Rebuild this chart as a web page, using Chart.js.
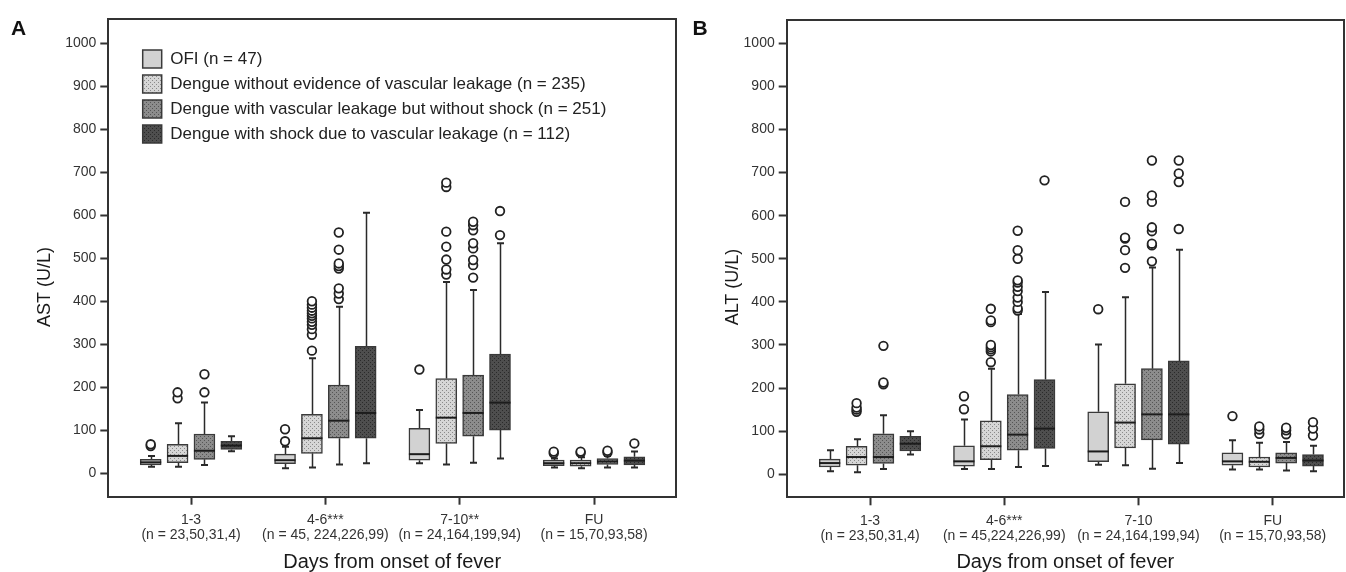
<!DOCTYPE html>
<html><head><meta charset="utf-8">
<script src="https://cdn.jsdelivr.net/npm/chart.js@4.4.1/dist/chart.umd.min.js"></script>
<style>
html,body{margin:0;padding:0;background:#fff;width:1346px;height:572px;overflow:hidden;}
#wrapA{position:absolute;left:0;top:0;width:690px;height:572px;}
#wrapB{position:absolute;left:690px;top:0;width:656px;height:572px;}
canvas{display:block;}
</style></head><body>
<div id="wrapA"><canvas id="cA" width="690" height="572" style="width:690px;height:572px"></canvas></div>
<div id="wrapB"><canvas id="cB" width="656" height="572" style="width:656px;height:572px"></canvas></div>
<script>
// ---------- categories & labels ----------
const daysA = ['1-3', '4-6***', '7-10**', 'FU'];
const daysB = ['1-3', '4-6***', '7-10', 'FU'];
const nLabelsA = ['(n = 23,50,31,4)', '(n = 45, 224,226,99)', '(n = 24,164,199,94)', '(n = 15,70,93,58)'];
const nLabelsB = ['(n = 23,50,31,4)', '(n = 45,224,226,99)', '(n = 24,164,199,94)', '(n = 15,70,93,58)'];
const seriesNames = [
  'OFI (n = 47)',
  'Dengue without evidence of vascular leakage (n = 235)',
  'Dengue with vascular leakage but without shock (n = 251)',
  'Dengue with shock due to vascular leakage (n = 112)'
];
const yTickValues = [0, 100, 200, 300, 400, 500, 600, 700, 800, 900, 1000];

// ---------- Panel A: AST, rows = [min, Q1, median, Q3, max] per day group ----------
const astOFI    = [[15, 19, 25, 32, 40], [11, 22, 30, 44, 61], [23, 30, 44, 104, 147], [13, 17, 23, 30, 34]];
const astNoLeak = [[15, 24, 40, 67, 116], [13, 46, 81, 137, 267], [20, 69, 129, 220, 445], [11, 16, 23, 30, 37]];
const astLeak   = [[19, 32, 52, 91, 164], [20, 81, 122, 205, 387], [24, 86, 140, 228, 426], [13, 20, 27, 34, 40]];
const astShock  = [[51, 55, 64, 74, 86], [23, 81, 140, 295, 606], [34, 100, 164, 277, 535], [13, 19, 29, 38, 50]];
const astOFIOut    = [[63, 67], [74, 102], [241], [46, 50]];
const astNoLeakOut = [[174, 188], [285, 322, 335, 345, 352, 360, 366, 372, 378, 385, 392, 400], [462, 474, 497, 527, 562, 666, 676], [47, 50]];
const astLeakOut   = [[188, 230], [405, 418, 430, 476, 482, 488, 520, 560], [455, 484, 496, 523, 535, 565, 577, 585], [48, 52]];
const astShockOut  = [[], [], [554, 610], [69]];

// ---------- Panel B: ALT ----------
const altOFI    = [[7, 17, 26, 35, 56], [12, 19, 30, 66, 127], [22, 29, 53, 145, 301], [11, 21, 30, 50, 79]];
const altNoLeak = [[5, 21, 40, 65, 81], [12, 34, 65, 124, 245], [21, 61, 120, 210, 411], [11, 17, 29, 40, 73]];
const altLeak   = [[12, 25, 40, 94, 137], [17, 56, 92, 185, 372], [13, 80, 139, 245, 480], [9, 26, 38, 50, 75]];
const altShock  = [[46, 54, 71, 88, 100], [19, 60, 106, 220, 423], [26, 70, 139, 263, 521], [7, 19, 32, 46, 66]];
const altOFIOut    = [[], [151, 181], [383], [135]];
const altNoLeakOut = [[145, 150, 155, 165], [260, 285, 290, 295, 300, 353, 357, 384], [479, 520, 547, 549, 632], [94, 104, 111]];
const altLeakOut   = [[209, 213, 298], [380, 385, 400, 410, 425, 435, 445, 450, 500, 520, 565], [494, 531, 535, 564, 573, 632, 647, 728], [93, 102, 108]];
const altShockOut  = [[], [682], [569, 678, 698, 728], [90, 106, 121]];

// ---------- styling / layout ----------
const FONT = '"Liberation Sans", Arial, Helvetica, sans-serif';
Chart.defaults.font.family = FONT;
const SERIES_OFFSET = [-0.3, -0.1, 0.1, 0.3];

function dotPattern(ctx, bg, dot) {
  const c = document.createElement('canvas'); c.width = 4; c.height = 4;
  const g = c.getContext('2d');
  g.fillStyle = bg; g.fillRect(0, 0, 4, 4);
  g.fillStyle = dot; g.fillRect(0, 0, 1, 1); g.fillRect(2, 2, 1, 1);
  return ctx.createPattern(c, 'repeat');
}
function fillsFor(ctx) {
  return ['#d2d2d2', dotPattern(ctx, '#d6d6d6', '#8a8a8a'), dotPattern(ctx, '#8c8c8c', '#555555'), dotPattern(ctx, '#4e4e4e', '#2a2a2a')];
}

function buildDatasets(stats, outs, fills) {
  const ds = [];
  stats.forEach((rows, s) => {
    ds.push({
      type: 'bar', label: seriesNames[s], stats: rows,
      data: rows.map((r, g) => ({ x: g + 1 + SERIES_OFFSET[s], y: [r[1], r[3]] })),
      backgroundColor: fills[s], borderColor: '#3a3a3a', borderWidth: 1.5, borderSkipped: false,
      grouped: false, maxBarThickness: 21, barPercentage: 1, categoryPercentage: 1
    });
  });
  outs.forEach((groups, s) => {
    ds.push({
      type: 'scatter', label: 'outliers ' + s,
      data: groups.flatMap((vals, g) => vals.map(v => ({ x: g + 1 + SERIES_OFFSET[s], y: v }))),
      pointRadius: 4.3, pointHoverRadius: 4.3, pointBorderWidth: 1.8,
      pointBackgroundColor: '#ffffff', pointBorderColor: '#222222'
    });
  });
  return ds;
}

// whiskers (behind) and medians (on top), positioned from the bar elements and y scale
const boxPlugin = {
  id: 'boxWhiskers',
  beforeDatasetsDraw(chart) {
    const { ctx } = chart; const y = chart.scales.y;
    chart.data.datasets.forEach((ds, i) => {
      if (!ds.stats) return;
      chart.getDatasetMeta(i).data.forEach((el, j) => {
        const r = ds.stats[j]; const x = Math.round(el.x) + 0.5;
        ctx.save(); ctx.strokeStyle = '#2a2a2a'; ctx.lineWidth = 1.5;
        ctx.beginPath();
        ctx.moveTo(x, y.getPixelForValue(r[3])); ctx.lineTo(x, y.getPixelForValue(r[4]));
        ctx.moveTo(x, y.getPixelForValue(r[1])); ctx.lineTo(x, y.getPixelForValue(r[0]));
        ctx.stroke();
        ctx.lineWidth = 2;
        ctx.beginPath();
        ctx.moveTo(x - 3.5, y.getPixelForValue(r[4])); ctx.lineTo(x + 3.5, y.getPixelForValue(r[4]));
        ctx.moveTo(x - 3.5, y.getPixelForValue(r[0])); ctx.lineTo(x + 3.5, y.getPixelForValue(r[0]));
        ctx.stroke(); ctx.restore();
      });
    });
  },
  afterDatasetsDraw(chart) {
    const { ctx } = chart; const y = chart.scales.y;
    chart.data.datasets.forEach((ds, i) => {
      if (!ds.stats) return;
      chart.getDatasetMeta(i).data.forEach((el, j) => {
        const r = ds.stats[j]; const hw = el.width / 2; const py = y.getPixelForValue(r[2]);
        ctx.save(); ctx.strokeStyle = '#1c1c1c'; ctx.lineWidth = 2;
        ctx.beginPath(); ctx.moveTo(el.x - hw, py); ctx.lineTo(el.x + hw, py); ctx.stroke();
        ctx.restore();
      });
    });
  }
};

// frame (top/right), panel letter and y-axis title
const framePlugin = {
  id: 'frame',
  afterDraw(chart, args, o) {
    const { ctx, chartArea: a } = chart;
    ctx.save(); ctx.strokeStyle = '#333'; ctx.lineWidth = 2;
    ctx.beginPath(); ctx.moveTo(a.left, a.top); ctx.lineTo(a.right, a.top); ctx.lineTo(a.right, a.bottom); ctx.stroke();
    ctx.font = 'bold 21px ' + FONT; ctx.fillStyle = '#111'; ctx.textBaseline = 'middle'; ctx.textAlign = 'left';
    ctx.fillText(o.text, o.x, o.y);
    ctx.translate(o.titleX, o.titleY); ctx.rotate(-Math.PI / 2);
    ctx.font = '18px ' + FONT; ctx.fillStyle = '#1a1a1a'; ctx.textAlign = 'center';
    ctx.fillText(o.yTitle, 0, 0);
    ctx.restore();
  }
};

const legendPlacer = {
  id: 'legendPlacer',
  afterLayout(chart, args, o) {
    const lg = chart.legend;
    if (!lg || o.left == null) return;
    lg.left = o.left; lg.top = o.top; lg.right = o.left + lg.width;
    lg.height = 200; lg.bottom = o.top + 200;
  }
};

function makeChart(canvasId, cfg) {
  const ctx = document.getElementById(canvasId).getContext('2d');
  const fills = fillsFor(ctx);
  return new Chart(ctx, {
    type: 'bar',
    data: { datasets: buildDatasets(cfg.stats, cfg.outs, fills) },
    plugins: [boxPlugin, framePlugin, legendPlacer],
    options: {
      responsive: false, animation: false, devicePixelRatio: 1,
      events: [],
      layout: { padding: cfg.padding, autoPadding: false },
      plugins: {
        tooltip: { enabled: false },
        frame: { text: cfg.panel, x: cfg.panelX, y: 29, yTitle: cfg.yTitle, titleX: cfg.titleX, titleY: 287 },
        legendPlacer: cfg.legendAt || {},
        legend: {
          display: !!cfg.legendAt, position: 'chartArea', align: 'start', fullSize: false,
          labels: {
            boxWidth: 19, boxHeight: 18, padding: 7, color: '#222',
            font: { size: 17, family: FONT },
            filter: (item, data) => data.datasets[item.datasetIndex].type === 'bar'
          }
        }
      },
      scales: {
        x: {
          type: 'linear', min: cfg.xMin, max: cfg.xMax, offset: false,
          afterBuildTicks: s => { s.ticks = cfg.days.map((d, i) => ({ value: i + 1 })); },
          afterFit: s => { s.height = cfg.xHeight; },
          ticks: {
            callback: v => [cfg.days[v - 1], cfg.nLabels[v - 1]],
            font: { size: 14, family: FONT, lineHeight: 15 / 14 }, color: '#333',
            padding: 8, maxRotation: 0, autoSkip: false
          },
          grid: { offset: false, drawOnChartArea: false, drawTicks: true, tickLength: 8, tickColor: '#333', tickWidth: 2, color: '#333' },
          border: { display: true, color: '#333', width: 2 },
          title: { display: true, text: 'Days from onset of fever', color: '#1a1a1a',
                   font: { size: 20, family: FONT, lineHeight: 1 }, padding: { top: 0, bottom: 0 } }
        },
        y: {
          type: 'linear', min: cfg.yMin, max: cfg.yMax,
          afterBuildTicks: s => { s.ticks = yTickValues.map(v => ({ value: v })); },
          afterFit: s => { s.width = cfg.yWidth; },
          ticks: { font: { size: 14, family: FONT }, color: '#333', padding: 4, callback: v => String(v) },
          grid: { drawOnChartArea: false, drawTicks: true, tickLength: 8, tickColor: '#333', tickWidth: 2, color: '#333' },
          border: { display: true, color: '#333', width: 2 },
          title: { display: false }
        }
      }
    }
  });
}

makeChart('cA', {
  panel: 'A', panelX: 11, yTitle: 'AST (U/L)', titleX: 45, days: daysA, nLabels: nLabelsA,
  stats: [astOFI, astNoLeak, astLeak, astShock],
  outs: [astOFIOut, astNoLeakOut, astLeakOut, astShockOut],
  padding: { left: 30, top: 19, right: 14, bottom: 0 },
  yWidth: 78.3, xHeight: 75.3, xMin: 0.3844, xMax: 4.610, yMin: -55, yMax: 1057,
  legendAt: { left: 135.7, top: 43 }
});
makeChart('cB', {
  panel: 'B', panelX: 2.5, yTitle: 'ALT (U/L)', titleX: 43, days: daysB, nLabels: nLabelsB,
  stats: [altOFI, altNoLeak, altLeak, altShock],
  outs: [altOFIOut, altNoLeakOut, altLeakOut, altShockOut],
  padding: { left: 28, top: 20, right: 2, bottom: 0 },
  yWidth: 68.7, xHeight: 74.7, xMin: 0.3794, xMax: 4.531, yMin: -53.4, yMax: 1054,
  legendAt: null
});
</script>
</body></html>
